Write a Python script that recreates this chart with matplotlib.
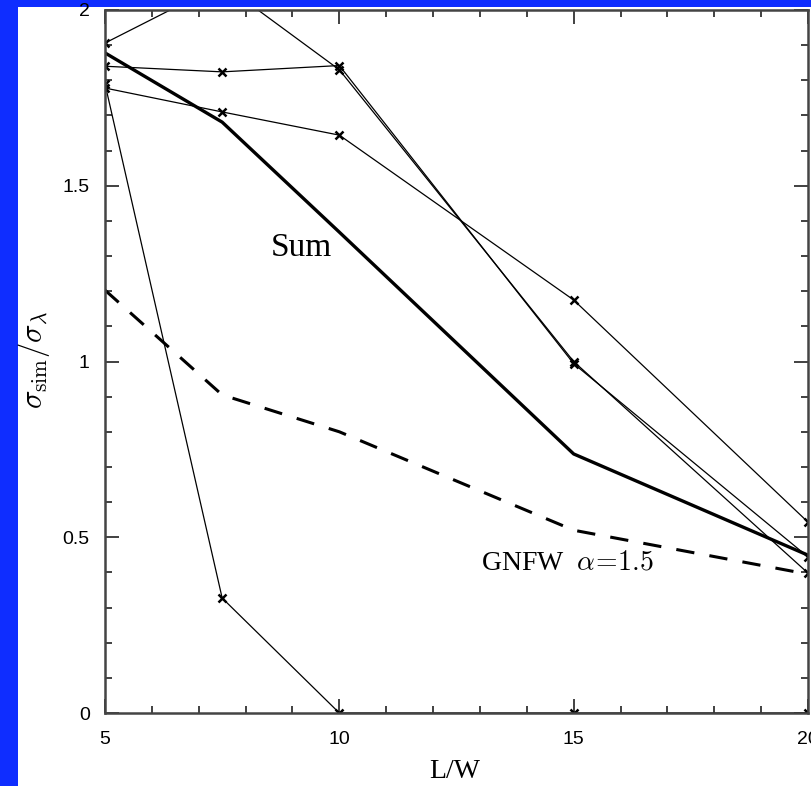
import numpy as np
import matplotlib.pyplot as plt
from matplotlib.patches import Rectangle
from matplotlib.ticker import MultipleLocator

plt.rcParams['mathtext.fontset'] = 'cm'

# aspect ratio L/W
lw_ratio = [5, 7.5, 10, 15, 20]

# summed scatter ratio and the GNFW alpha=1.5 curve
sum_vals = [1.878, 1.681, 1.368, 0.737, 0.449]
gnfw_vals = [1.203, 0.905, 0.800, 0.520, 0.395]

# individual components (thin lines with crosses)
comp_a = [1.906, 2.075, 1.830, 1.000, 0.398]
comp_b = [1.840, 1.824, 1.842, 0.994, 0.444]
comp_c = [1.778, 1.710, 1.644, 1.175, 0.543]
comp_d = [1.790, 0.327, 0.0, 0.0, 0.0]

fig = plt.figure(figsize=(8.12, 7.86), dpi=100)
fig.patch.set_facecolor('#0f2dff')
# white slide panel behind the plot
fig.patches.append(Rectangle((18 / 812, 0), 1, 1 - 7 / 786,
                             transform=fig.transFigure,
                             facecolor='white', edgecolor='none', zorder=-10))

ax = fig.add_axes([105 / 812, 1 - 713 / 786, 703 / 812, 703 / 786])
ax.set_facecolor('white')

for comp in (comp_a, comp_b, comp_c, comp_d):
    ax.plot(lw_ratio, comp, color='black', lw=0.9, marker='x',
            ms=6, mew=1.8)
ax.plot(lw_ratio, sum_vals, color='black', lw=2.4)
ax.plot(lw_ratio, gnfw_vals, color='black', lw=2.2, dashes=(6, 5))

ax.set_xlim(5, 20)
ax.set_ylim(0, 2)
ax.xaxis.set_major_locator(MultipleLocator(5))
ax.xaxis.set_minor_locator(MultipleLocator(1))
ax.yaxis.set_major_locator(MultipleLocator(0.5))
ax.yaxis.set_minor_locator(MultipleLocator(0.1))
ax.set_xticks([5, 10, 15, 20])
ax.set_xticklabels(['5', '10', '15', '20'])
ax.set_yticks([0, 0.5, 1, 1.5, 2])
ax.set_yticklabels(['0', '0.5', '1', '1.5', '2'])

ax.tick_params(which='both', direction='in', top=True, right=True,
               color='#333333', width=1.3, labelsize=14)
ax.tick_params(which='major', length=10)
ax.tick_params(which='minor', length=5)
ax.tick_params(axis='y', pad=11)
ax.tick_params(axis='x', pad=13)
for lab in ax.get_xticklabels() + ax.get_yticklabels():
    lab.set_fontfamily('Liberation Sans')
for sp in ax.spines.values():
    sp.set_color('#444444')
    sp.set_linewidth(1.8)

ax.text(9.18, 1.323, 'Sum', fontsize=24, family='Liberation Serif',
        ha='center', va='center')
ax.text(14.86, 0.427, r'GNFW  $\alpha\!=\!1.5$', fontsize=20,
        family='Liberation Serif', ha='center', va='center')

fig.text(455 / 812, 1 - 771 / 786, 'L/W', fontsize=20,
         family='Liberation Serif', ha='center', va='center')
fig.text(34 / 812, 1 - 360 / 786, r'$\sigma_{\rm sim}/\sigma_\lambda$',
         fontsize=22, rotation=90, ha='center', va='center')

fig.savefig('out.png', dpi=100)
